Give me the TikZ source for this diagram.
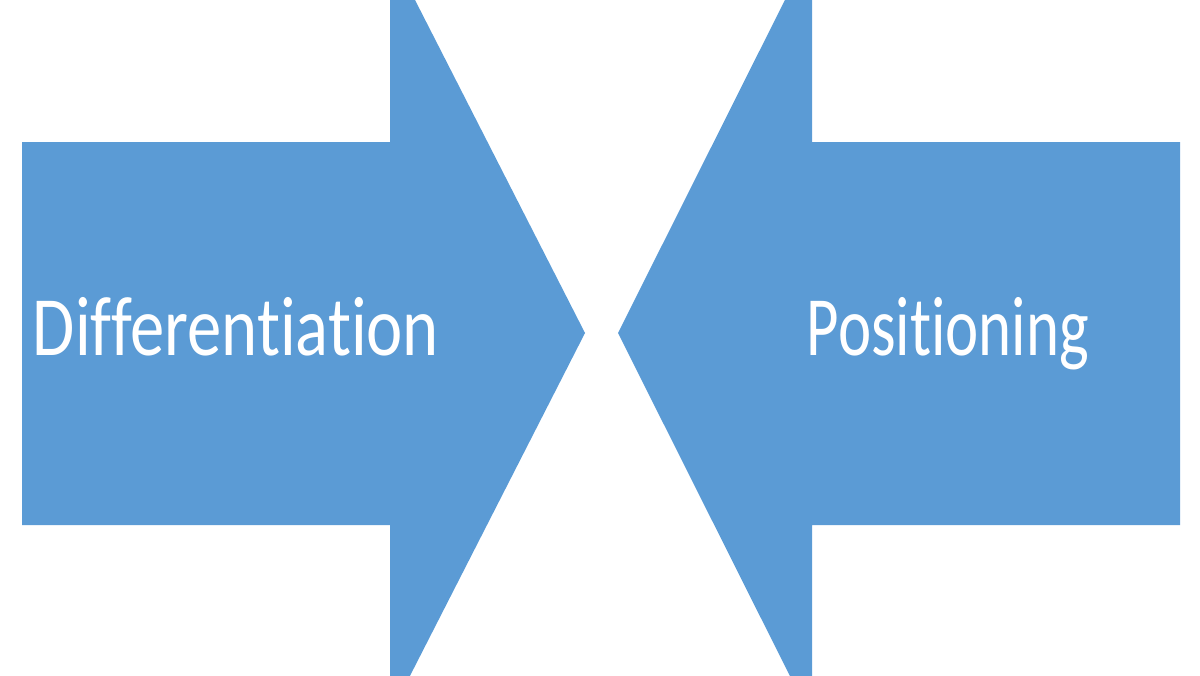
\documentclass[tikz,border=0pt]{standalone}
\usepackage{fontspec}
\setmainfont{Carlito}[Ligatures=NoCommon]
\definecolor{arrowblue}{HTML}{5B9BD5}
\newcommand{\fittext}[2]{\resizebox{#1}{\height}{#2}}
\begin{document}
\begin{tikzpicture}[x=0.01cm, y=0.01cm, arrowpart/.style={fill=arrowblue, draw=none},
    label text/.style={text=white, font=\fontsize{24}{28}\selectfont, inner sep=0pt, anchor=base}]
    % Frame
    \useasboundingbox (0,0) rectangle (1200,675);
    \clip (0,0) rectangle (1200,675);
    % Arrows
    \fill[arrowpart] (22,533) -- (390,533) -- (390,724) -- (585,342) -- (390,-40) -- (390,150) -- (22,150) -- cycle;
    \fill[arrowpart] (1180,533) -- (812,533) -- (812,729) -- (618,342) -- (812,-45) -- (812,150) -- (1180,150) -- cycle;
    % Labels
    \node[label text] (diff) at (236,320) {\fittext{4.06cm}{Differentiation}};
    \node[label text] (pos) at (948,320) {\fittext{2.82cm}{Positioning}};
\end{tikzpicture}
\end{document}
